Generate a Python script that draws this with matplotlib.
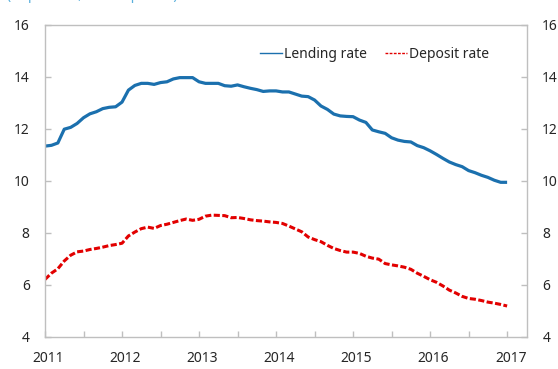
import matplotlib
matplotlib.use("Agg")
import matplotlib.pyplot as plt
from matplotlib.lines import Line2D

plt.rcParams['font.family'] = ['Noto Sans', 'DejaVu Sans']

# Monthly rates, Jan 2011 - Jan 2017 (percent)
lending_rate = [
    11.33, 11.36, 11.45, 11.98, 12.05, 12.20, 12.42, 12.57, 12.65, 12.77,
    12.82, 12.84, 13.02, 13.48, 13.66, 13.74, 13.74, 13.70, 13.77, 13.80,
    13.91, 13.96, 13.96, 13.96, 13.80, 13.74, 13.74, 13.74, 13.65, 13.63,
    13.68, 13.61, 13.55, 13.50, 13.43, 13.45, 13.45, 13.41, 13.41, 13.33,
    13.25, 13.23, 13.10, 12.87, 12.74, 12.56, 12.49, 12.47, 12.46, 12.33,
    12.24, 11.95, 11.88, 11.82, 11.65, 11.56, 11.51, 11.49, 11.35, 11.27,
    11.15, 11.01, 10.86, 10.72, 10.62, 10.54, 10.39, 10.31, 10.21, 10.13,
    10.02, 9.94, 9.94,
]
deposit_rate = [
    6.21, 6.45, 6.62, 6.92, 7.14, 7.27, 7.30, 7.36, 7.40, 7.45,
    7.51, 7.55, 7.60, 7.88, 8.03, 8.16, 8.22, 8.17, 8.28, 8.33,
    8.40, 8.47, 8.53, 8.48, 8.52, 8.64, 8.68, 8.67, 8.66, 8.58,
    8.59, 8.55, 8.50, 8.47, 8.45, 8.42, 8.40, 8.36, 8.26, 8.15,
    8.04, 7.84, 7.74, 7.66, 7.52, 7.40, 7.32, 7.26, 7.26, 7.21,
    7.10, 7.03, 6.99, 6.82, 6.77, 6.73, 6.68, 6.60, 6.45, 6.33,
    6.20, 6.10, 5.96, 5.80, 5.69, 5.56, 5.48, 5.45, 5.40, 5.34,
    5.30, 5.25, 5.19,
]
year_labels = ["2011", "2012", "2013", "2014", "2015", "2016", "2017"]
y_ticks = [4, 6, 8, 10, 12, 14, 16]

blue = "#1b70ae"
red = "#e20000"
grey = "#bfbfbf"
text_col = "#262626"

months = list(range(len(lending_rate)))

fig = plt.figure(figsize=(5.58, 3.69), dpi=100)
ax = fig.add_axes([45 / 558, 32 / 369, 482 / 558, 312.5 / 369])

ax.plot(months, lending_rate, color=blue, lw=2.3, solid_capstyle="butt",
        solid_joinstyle="round")
ax.plot(months, deposit_rate, color=red, lw=2.2, dashes=(2.0, 0.8),
        dash_capstyle="butt")

ax.set_xlim(0, 75.1)
ax.set_ylim(4, 16)

# half-year tick marks, year labels just right of the January ticks
ax.set_xticks(range(0, 73, 6))
ax.set_xticklabels([])
ax.set_xticks([12 * i + 0.55 for i in range(len(year_labels))], minor=True)
ax.set_xticklabels(year_labels, minor=True)
ax.tick_params(axis="x", which="major", direction="in", length=4,
               color=grey, width=1)
ax.tick_params(axis="x", which="minor", length=0, pad=10,
               labelsize=10, labelcolor=text_col)

ax.set_yticks(y_ticks)
ax.set_yticklabels([str(t) for t in y_ticks])
ax.tick_params(axis="y", direction="in", length=4, color=grey, width=1,
               left=True, right=True, labelleft=True, labelright=True,
               labelsize=10, labelcolor=text_col, pad=11)

for side in ax.spines.values():
    side.set_color(grey)
    side.set_linewidth(1)

handles = [
    Line2D([], [], color=blue, lw=1.0),
    Line2D([], [], color=red, lw=1.0, dashes=(2.0, 1.0)),
]
ax.legend(handles, ["Lending rate", "Deposit rate"], ncol=2, frameon=False,
          loc="upper left", bbox_to_anchor=(0.447, 0.927), fontsize=10,
          handlelength=1.55, handletextpad=0.15, columnspacing=1.3,
          labelcolor=text_col, borderaxespad=0, borderpad=0)

# subtitle sits at the very top edge of the canvas
fig.text(7 / 558, 1 + 0.8 / 369, "(In percent, end of period)", color="#5ab0dd",
         fontsize=10, ha="left", va="baseline")

fig.savefig("out.png", dpi=100)
